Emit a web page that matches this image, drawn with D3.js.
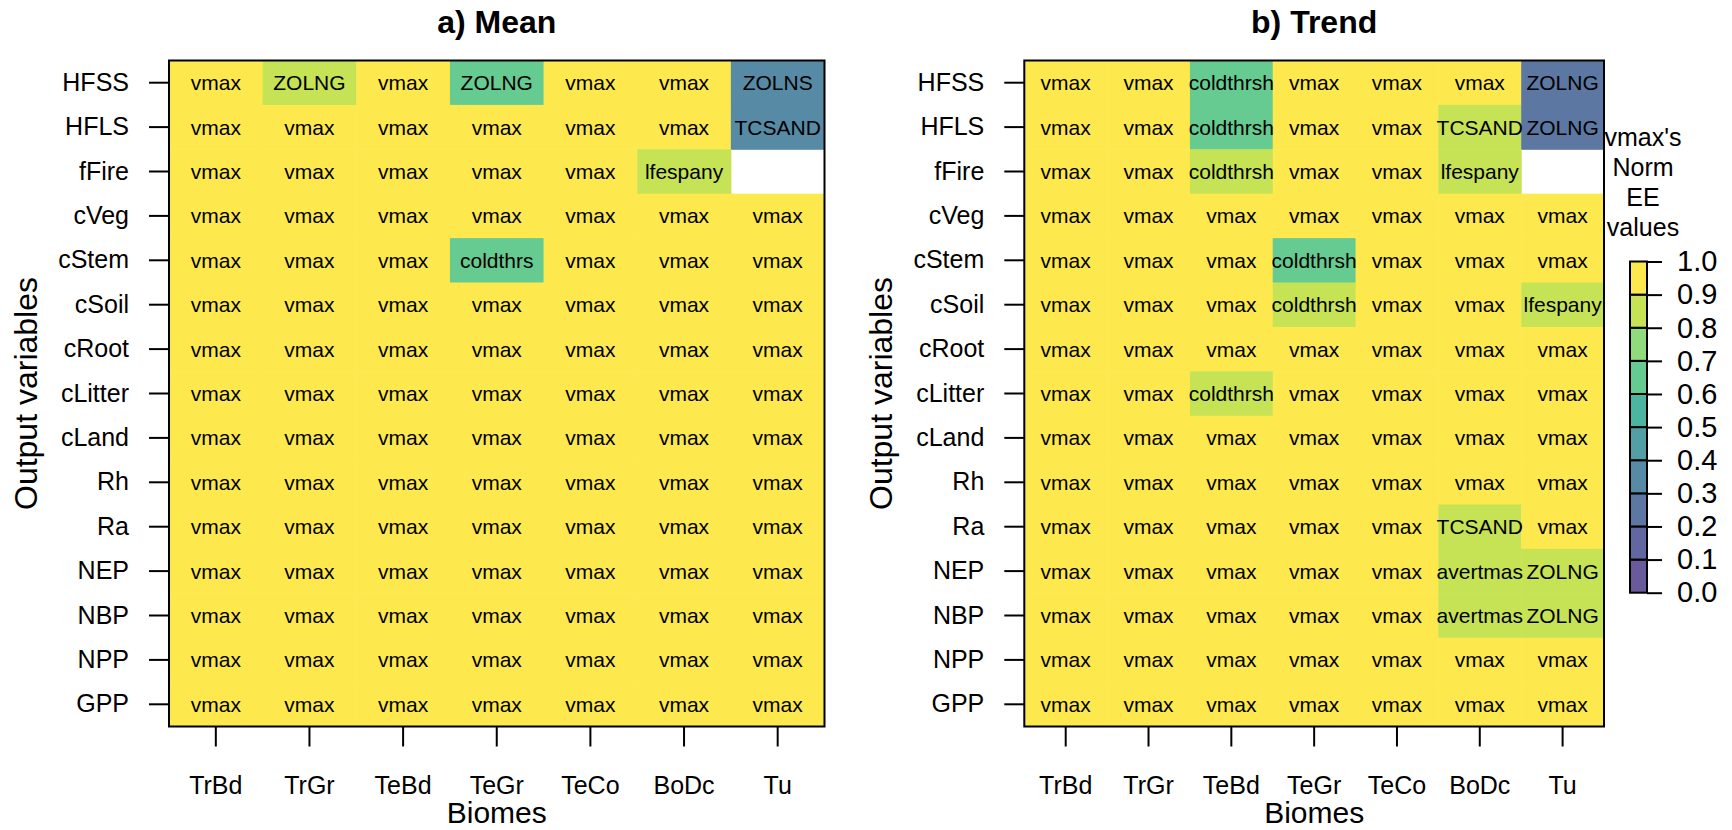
<!DOCTYPE html>
<html>
<head>
<meta charset="utf-8">
<script src="https://cdn.jsdelivr.net/npm/d3@7"></script>
<style>
  html, body { margin: 0; padding: 0; background: #fff; }
  svg text { font-family: "Liberation Sans", Arial, Helvetica, sans-serif; fill: #000; }
</style>
</head>
<body>
<svg id="chart" width="1732" height="830"></svg>
<script>
// Biomes along x, output variables along y (top to bottom)
const biomes = ["TrBd", "TrGr", "TeBd", "TeGr", "TeCo", "BoDc", "Tu"];
const variables = ["HFSS", "HFLS", "fFire", "cVeg", "cStem", "cSoil", "cRoot",
                   "cLitter", "cLand", "Rh", "Ra", "NEP", "NBP", "NPP", "GPP"];

// Most influential parameter per cell (null = no data)
const meanLabels = [
  ["vmax", "ZOLNG", "vmax", "ZOLNG", "vmax", "vmax", "ZOLNS"],
  ["vmax", "vmax", "vmax", "vmax", "vmax", "vmax", "TCSAND"],
  ["vmax", "vmax", "vmax", "vmax", "vmax", "lfespany", null],
  ["vmax", "vmax", "vmax", "vmax", "vmax", "vmax", "vmax"],
  ["vmax", "vmax", "vmax", "coldthrs", "vmax", "vmax", "vmax"],
  ["vmax", "vmax", "vmax", "vmax", "vmax", "vmax", "vmax"],
  ["vmax", "vmax", "vmax", "vmax", "vmax", "vmax", "vmax"],
  ["vmax", "vmax", "vmax", "vmax", "vmax", "vmax", "vmax"],
  ["vmax", "vmax", "vmax", "vmax", "vmax", "vmax", "vmax"],
  ["vmax", "vmax", "vmax", "vmax", "vmax", "vmax", "vmax"],
  ["vmax", "vmax", "vmax", "vmax", "vmax", "vmax", "vmax"],
  ["vmax", "vmax", "vmax", "vmax", "vmax", "vmax", "vmax"],
  ["vmax", "vmax", "vmax", "vmax", "vmax", "vmax", "vmax"],
  ["vmax", "vmax", "vmax", "vmax", "vmax", "vmax", "vmax"],
  ["vmax", "vmax", "vmax", "vmax", "vmax", "vmax", "vmax"]
];
// vmax's normalised elementary-effect value per cell
const meanValues = [
  [1.0, 0.85, 1.0, 0.65, 1.0, 1.0, 0.35],
  [1.0, 1.0, 1.0, 1.0, 1.0, 1.0, 0.35],
  [1.0, 1.0, 1.0, 1.0, 1.0, 0.85, null],
  [1.0, 1.0, 1.0, 1.0, 1.0, 1.0, 1.0],
  [1.0, 1.0, 1.0, 0.65, 1.0, 1.0, 1.0],
  [1.0, 1.0, 1.0, 1.0, 1.0, 1.0, 1.0],
  [1.0, 1.0, 1.0, 1.0, 1.0, 1.0, 1.0],
  [1.0, 1.0, 1.0, 1.0, 1.0, 1.0, 1.0],
  [1.0, 1.0, 1.0, 1.0, 1.0, 1.0, 1.0],
  [1.0, 1.0, 1.0, 1.0, 1.0, 1.0, 1.0],
  [1.0, 1.0, 1.0, 1.0, 1.0, 1.0, 1.0],
  [1.0, 1.0, 1.0, 1.0, 1.0, 1.0, 1.0],
  [1.0, 1.0, 1.0, 1.0, 1.0, 1.0, 1.0],
  [1.0, 1.0, 1.0, 1.0, 1.0, 1.0, 1.0],
  [1.0, 1.0, 1.0, 1.0, 1.0, 1.0, 1.0]
];

const trendLabels = [
  ["vmax", "vmax", "coldthrsh", "vmax", "vmax", "vmax", "ZOLNG"],
  ["vmax", "vmax", "coldthrsh", "vmax", "vmax", "TCSAND", "ZOLNG"],
  ["vmax", "vmax", "coldthrsh", "vmax", "vmax", "lfespany", null],
  ["vmax", "vmax", "vmax", "vmax", "vmax", "vmax", "vmax"],
  ["vmax", "vmax", "vmax", "coldthrsh", "vmax", "vmax", "vmax"],
  ["vmax", "vmax", "vmax", "coldthrsh", "vmax", "vmax", "lfespany"],
  ["vmax", "vmax", "vmax", "vmax", "vmax", "vmax", "vmax"],
  ["vmax", "vmax", "coldthrsh", "vmax", "vmax", "vmax", "vmax"],
  ["vmax", "vmax", "vmax", "vmax", "vmax", "vmax", "vmax"],
  ["vmax", "vmax", "vmax", "vmax", "vmax", "vmax", "vmax"],
  ["vmax", "vmax", "vmax", "vmax", "vmax", "TCSAND", "vmax"],
  ["vmax", "vmax", "vmax", "vmax", "vmax", "avertmas", "ZOLNG"],
  ["vmax", "vmax", "vmax", "vmax", "vmax", "avertmas", "ZOLNG"],
  ["vmax", "vmax", "vmax", "vmax", "vmax", "vmax", "vmax"],
  ["vmax", "vmax", "vmax", "vmax", "vmax", "vmax", "vmax"]
];
const trendValues = [
  [1.0, 1.0, 0.65, 1.0, 1.0, 1.0, 0.25],
  [1.0, 1.0, 0.65, 1.0, 1.0, 0.85, 0.25],
  [1.0, 1.0, 0.85, 1.0, 1.0, 0.85, null],
  [1.0, 1.0, 1.0, 1.0, 1.0, 1.0, 1.0],
  [1.0, 1.0, 1.0, 0.65, 1.0, 1.0, 1.0],
  [1.0, 1.0, 1.0, 0.85, 1.0, 1.0, 0.85],
  [1.0, 1.0, 1.0, 1.0, 1.0, 1.0, 1.0],
  [1.0, 1.0, 0.85, 1.0, 1.0, 1.0, 1.0],
  [1.0, 1.0, 1.0, 1.0, 1.0, 1.0, 1.0],
  [1.0, 1.0, 1.0, 1.0, 1.0, 1.0, 1.0],
  [1.0, 1.0, 1.0, 1.0, 1.0, 0.85, 1.0],
  [1.0, 1.0, 1.0, 1.0, 1.0, 0.85, 0.85],
  [1.0, 1.0, 1.0, 1.0, 1.0, 0.85, 0.85],
  [1.0, 1.0, 1.0, 1.0, 1.0, 1.0, 1.0],
  [1.0, 1.0, 1.0, 1.0, 1.0, 1.0, 1.0]
];

// Colour classes (0.1 wide) and their fills, low to high
const breaks = [0, 0.1, 0.2, 0.3, 0.4, 0.5, 0.6, 0.7, 0.8, 0.9, 1.0];
const palette = ["#6A5A9B", "#6167A0", "#5C78A2", "#578AA5", "#52A0A6",
                 "#4BB5A1", "#66CB91", "#90DB7B", "#C5E355", "#FDE94D"];
const legendTicks = ["0.0", "0.1", "0.2", "0.3", "0.4", "0.5", "0.6", "0.7", "0.8", "0.9", "1.0"];

const svg = d3.select("#chart");
const plotTop = 60.5, plotBottom = 726.5;

const color = d3.scaleThreshold()
  .domain(breaks.slice(1, -1))
  .range(palette);

const y = d3.scaleBand().domain(variables).range([plotTop, plotBottom]).paddingInner(0).paddingOuter(0);

function drawPanel(cfg) {
  const x = d3.scaleBand().domain(biomes).range([cfg.x0, cfg.x1]).paddingInner(0).paddingOuter(0);
  const g = svg.append("g");

  const cells = [];
  variables.forEach((v, i) => biomes.forEach((b, j) => {
    cells.push({ v, b, value: cfg.values[i][j], label: cfg.labels[i][j] });
  }));

  g.selectAll("rect.cell").data(cells.filter(d => d.value !== null)).join("rect")
    .attr("class", "cell")
    .attr("x", d => x(d.b))
    .attr("y", d => y(d.v))
    .attr("width", x.bandwidth() + 0.5)
    .attr("height", y.bandwidth() + 0.5)
    .attr("fill", d => color(d.value));

  g.selectAll("text.cell").data(cells.filter(d => d.label !== null)).join("text")
    .attr("class", "cell")
    .attr("x", d => x(d.b) + x.bandwidth() / 2)
    .attr("y", d => y(d.v) + y.bandwidth() / 2)
    .attr("text-anchor", "middle")
    .attr("dominant-baseline", "central")
    .style("font-size", "21px")
    .text(d => d.label);

  // frame
  g.append("rect")
    .attr("x", cfg.x0).attr("y", plotTop)
    .attr("width", cfg.x1 - cfg.x0).attr("height", plotBottom - plotTop)
    .attr("fill", "none").attr("stroke", "#000").attr("stroke-width", 2);

  // left axis
  const ya = g.append("g").attr("transform", `translate(${cfg.x0},0)`)
    .call(d3.axisLeft(y).tickSize(20).tickPadding(20).tickSizeOuter(0));
  ya.select(".domain").remove();
  ya.selectAll("line").attr("stroke-width", 2);
  ya.selectAll("text").style("font-size", "25px").attr("font-family", null);

  // bottom axis
  const xa = g.append("g").attr("transform", `translate(0,${plotBottom})`)
    .call(d3.axisBottom(x).tickSize(20).tickPadding(30).tickSizeOuter(0));
  xa.select(".domain").remove();
  xa.selectAll("line").attr("stroke-width", 2);
  xa.selectAll("text").style("font-size", "25px").attr("font-family", null);

  // titles
  const cx = (cfg.x0 + cfg.x1) / 2;
  svg.append("text").attr("x", cx).attr("y", 33)
    .attr("text-anchor", "middle")
    .style("font-size", "32px").style("font-weight", "bold")
    .text(cfg.title);
  svg.append("text").attr("x", cx).attr("y", 823)
    .attr("text-anchor", "middle")
    .style("font-size", "30px")
    .text("Biomes");
  svg.append("text")
    .attr("transform", `translate(${cfg.x0 - 132},${(plotTop + plotBottom) / 2}) rotate(-90)`)
    .attr("text-anchor", "middle")
    .style("font-size", "32px")
    .text("Output variables");
}

drawPanel({ x0: 169, x1: 824.5, title: "a) Mean", labels: meanLabels, values: meanValues });
drawPanel({ x0: 1024.3, x1: 1604, title: "b) Trend", labels: trendLabels, values: trendValues });

// Colour key
const lg = svg.append("g");
const ly = d3.scaleLinear().domain([0, 1]).range([592.7, 261.5]);
const lx0 = 1630, lw = 17;
const blocks = d3.range(palette.length).map(i => ({ lo: breaks[i], hi: breaks[i + 1], c: palette[i] }));
lg.selectAll("rect").data(blocks).join("rect")
  .attr("x", lx0).attr("y", d => ly(d.hi))
  .attr("width", lw).attr("height", d => ly(d.lo) - ly(d.hi))
  .attr("fill", d => d.c).attr("stroke", "#000").attr("stroke-width", 2);
const la = lg.append("g").attr("transform", `translate(${lx0 + lw},0)`)
  .call(d3.axisRight(ly).tickValues(breaks).tickFormat((d, i) => legendTicks[i])
    .tickSize(15).tickPadding(15).tickSizeOuter(0));
la.select(".domain").remove();
la.selectAll("line").attr("stroke-width", 2);
la.selectAll("text").style("font-size", "29px").attr("font-family", null);

const keyTitle = ["vmax's", "Norm", "EE", "values"];
lg.selectAll("text.kt").data(keyTitle).join("text")
  .attr("class", "kt")
  .attr("x", 1643)
  .attr("y", (d, i) => 136.7 + i * 30)
  .attr("text-anchor", "middle")
  .attr("dominant-baseline", "central")
  .style("font-size", "25px")
  .text(d => d);
</script>
</body>
</html>
